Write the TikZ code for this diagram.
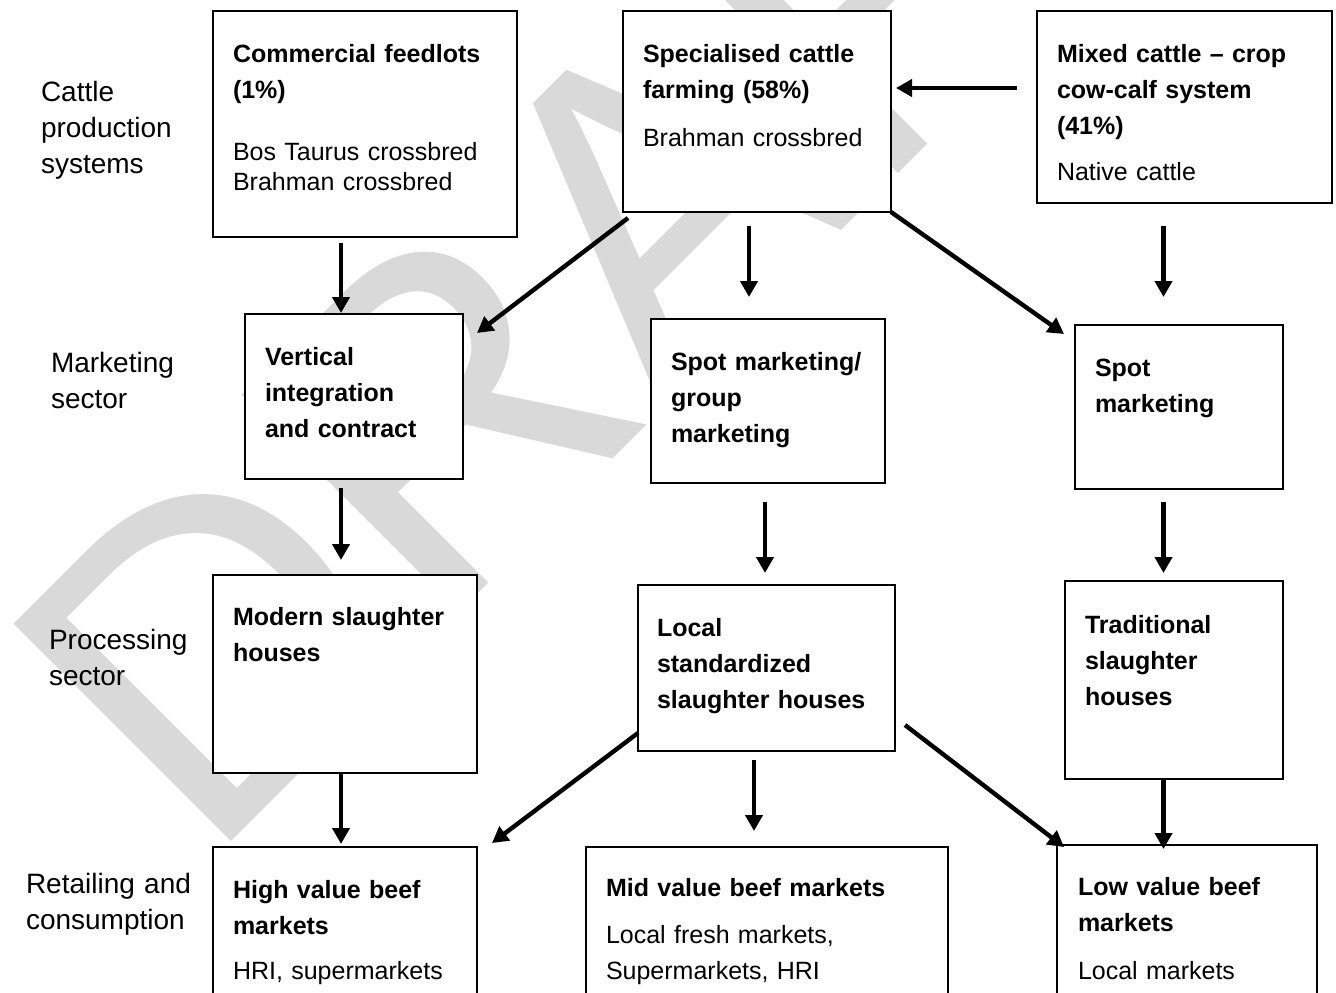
\documentclass[tikz,border=0pt]{standalone}
\usepackage{fontspec}
\setmainfont{Liberation Sans}
\usetikzlibrary{arrows.meta}
\definecolor{wmgray}{HTML}{D9D9D9}

\begin{document}
\begin{tikzpicture}[x=0.5pt, y=-0.5pt]
\tikzset{ >={Triangle[length=8pt, width=8.5pt]}, inner sep=0pt, outer sep=0pt, }
\tikzset{
  box/.style={draw, line width=0.6pt, fill=white},
  boxtxt/.style={anchor=base west, align=left, text width=200pt, font=\fontsize{12.5}{18}\selectfont},
  sidetxt/.style={anchor=base west, align=left, text width=100pt, font=\fontsize{14}{18}\selectfont},
  arr/.style={->, line width=2.2pt},
}

%\draw [lightgray, dashed] (0,0) grid (1336,992);
\useasboundingbox (0,0) rectangle (1336,992);
\clip (0,0) rectangle (1336,992);

% watermark
\node [anchor=base west, rotate=45, text=wmgray, font=\fontsize{223.5}{223.5}\selectfont] (draft) at (205,867) {DRAFT};

% boxes
\node [box, minimum width=152pt,   minimum height=113pt]   (feed)    at (365,124)    {};
\node [box, minimum width=134pt,   minimum height=100.5pt] (spec)    at (757,111.5)  {};
\node [box, minimum width=147.5pt, minimum height=96pt]    (mixed)   at (1184.5,107) {};
\node [box, minimum width=109pt,   minimum height=82.5pt]  (vert)    at (354,396.5)  {};
\node [box, minimum width=117pt,   minimum height=82pt]    (spotgrp) at (768,401)    {};
\node [box, minimum width=104pt,   minimum height=82pt]    (spot)    at (1179,407)   {};
\node [box, minimum width=132pt,   minimum height=99pt]    (modern)  at (345,674)    {};
\node [box, minimum width=128.5pt, minimum height=83pt]    (local)   at (766.5,668)  {};
\node [box, minimum width=109pt,   minimum height=99pt]    (trad)    at (1174,680)   {};
\node [box, minimum width=132pt,   minimum height=82.5pt]  (high)    at (345,929.5)  {};
\node [box, minimum width=181pt,   minimum height=82.5pt]  (mid)     at (767,929.5)  {};
\node [box, minimum width=130pt,   minimum height=83.5pt]  (low)     at (1187,928.5) {};

% box texts
\node [boxtxt] (feedT) at (233,62) {\textbf{Commercial feedlots}\\ \textbf{(1\%)}\\[13pt] Bos Taurus crossbred\\[-3pt] Brahman crossbred};
\node [boxtxt] (specT) at (643,62) {\textbf{Specialised cattle}\\ \textbf{farming (58\%)}\\[6pt] Brahman crossbred};
\node [boxtxt] (mixedT) at (1057,62) {\textbf{Mixed cattle -- crop}\\ \textbf{cow-calf system}\\ \textbf{(41\%)}\\[5pt] Native cattle};
\node [boxtxt] (vertT) at (265,365) {\bfseries Vertical\\ integration\\ and contract};
\node [boxtxt] (spotgrpT) at (671,370) {\bfseries Spot marketing/\\ group\\ marketing};
\node [boxtxt] (spotT) at (1095,376) {\bfseries Spot\\ marketing};
\node [boxtxt] (modernT) at (233,625) {\bfseries Modern slaughter\\ houses};
\node [boxtxt] (localT) at (657,636) {\bfseries Local\\ standardized\\ slaughter houses};
\node [boxtxt] (tradT) at (1085,633) {\bfseries Traditional\\ slaughter\\ houses};
\node [boxtxt] (highT) at (233,898) {\textbf{High value beef}\\ \textbf{markets}\\[4.5pt] HRI, supermarkets};
\node [boxtxt] (midT) at (606,896) {\textbf{Mid value beef markets}\\[5.5pt] Local fresh markets,\\ Supermarkets, HRI};
\node [boxtxt] (lowT) at (1078,895) {\textbf{Low value beef}\\ \textbf{markets}\\[6pt] Local markets};

% sector labels
\node [sidetxt] (sysL)  at (41,101) {Cattle\\ production\\ systems};
\node [sidetxt] (mktL)  at (51,372) {Marketing\\ sector};
\node [sidetxt] (procL) at (49,649) {Processing\\ sector};
\node [sidetxt] (retL)  at (26,893) {Retailing and\\ consumption};

% flows
\draw [arr] ([shift={(-24,6)}]feed.south)       -- ([shift={(-13,-1)}]vert.north);
\draw [arr] ([shift={(5,6)}]spec.south west)    -- ([shift={(14,19)}]vert.north east);
\draw [arr] ([shift={(-8,14)}]spec.south)       -- ([shift={(-19,-22)}]spotgrp.north);
\draw [arr] (spec.south east)                   -- ([shift={(-11,9)}]spot.north west);
\draw [arr] ([shift={(-20.5,-19)}]mixed.west)   -- ([shift={(5,-23.5)}]spec.east);
\draw [arr] ([shift={(-21,23)}]mixed.south)     -- ([shift={(-15.5,-28)}]spot.north);

\draw [arr] ([shift={(-13,9)}]vert.south)       -- ([shift={(-4,-15)}]modern.north);
\draw [arr] ([shift={(-3,19)}]spotgrp.south)    -- ([shift={(-1.5,-12)}]local.north);
\draw [arr] ([shift={(-15.5,13)}]spot.south)    -- ([shift={(-10.5,-8)}]trad.north);

\draw [arr] ([shift={(-4,0)}]modern.south)      -- ([shift={(-4,-3)}]high.north);
\draw [arr] ([shift={(0,-18)}]local.south west) -- ([shift={(15,-4)}]high.north east);
\draw [arr] ([shift={(-12.5,9)}]local.south)    -- ([shift={(-13,-16)}]mid.north);
\draw [arr] ([shift={(10,-26)}]local.south east) -- ([shift={(7,2)}]low.north west);
\draw [arr] ([shift={(-10.5,0)}]trad.south)     -- ([shift={(-23.5,4)}]low.north);

\end{tikzpicture}
\end{document}
